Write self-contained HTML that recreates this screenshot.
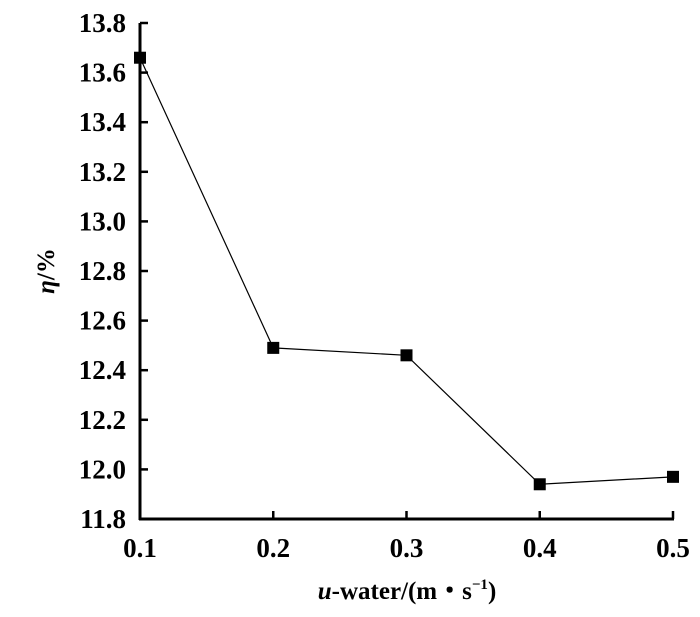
<!DOCTYPE html>
<html><head><meta charset="utf-8"><style>
html,body{margin:0;padding:0;background:#fff;}
svg{display:block;font-family:"Liberation Serif",serif;font-weight:bold;}
</style></head><body>
<svg id="chart" width="700" height="617"></svg>
<script>
const categories=[0.1,0.2,0.3,0.4,0.5];
const values=[13.66,12.49,12.46,11.94,11.97];
const yTicks=["11.8","12.0","12.2","12.4","12.6","12.8","13.0","13.2","13.4","13.6","13.8"];
const xTicks=["0.1","0.2","0.3","0.4","0.5"];
const NS="http://www.w3.org/2000/svg";
const svg=document.getElementById('chart');
const x0=140,x1=673,yTop=23,yBot=519;
const xs=v=>x0+(v-0.1)/0.4*(x1-x0);
const ys=v=>yBot-(v-11.8)/2.0*(yBot-yTop);
function mk(t,a,p){const e=document.createElementNS(NS,t);for(const k in a)e.setAttribute(k,a[k]);(p||svg).appendChild(e);return e;}
let e;
e=mk('line',{x1:x0,y1:yTop,x2:x0,y2:yBot+1,stroke:'#000','stroke-width':3});


e=mk('line',{x1:x0-1,y1:yBot,x2:x1+1,y2:yBot,stroke:'#000','stroke-width':3});


yTicks.forEach(t=>{const y=ys(parseFloat(t));
 e=mk('line',{x1:x0,y1:y,x2:x0+8,y2:y,stroke:'#000','stroke-width':2.5});
 
 
 e=mk('text',{x:x0-14,y:y+9,'text-anchor':'end','font-size':27});e.textContent=t;
 
 
});
xTicks.forEach(t=>{const x=xs(parseFloat(t));
 e=mk('line',{x1:x,y1:yBot,x2:x,y2:yBot-8,stroke:'#000','stroke-width':2.5});
 
 
 e=mk('text',{x:x,y:yBot+38,'text-anchor':'middle','font-size':27});e.textContent=t;
 
 
});
e=mk('polyline',{points:categories.map((c,i)=>xs(c)+','+ys(values[i])).join(' '),fill:'none',stroke:'#000','stroke-width':1.2});


categories.forEach((c,i)=>{
 e=mk('rect',{x:xs(c)-6,y:ys(values[i])-6,width:12,height:12,fill:'#000'});
 
 
});
e=mk('text',{x:407,y:599,'text-anchor':'middle','font-size':25});
e.innerHTML='<tspan font-style="italic">u</tspan>-water/(m・s<tspan font-size="15" dy="-10">−1</tspan><tspan dy="10">)</tspan>';


e=mk('text',{x:0,y:0,'text-anchor':'middle','font-size':25,transform:'translate(54,271) rotate(-90)'});
e.innerHTML='<tspan font-style="italic">η</tspan>/%';


</script>
</body></html>
